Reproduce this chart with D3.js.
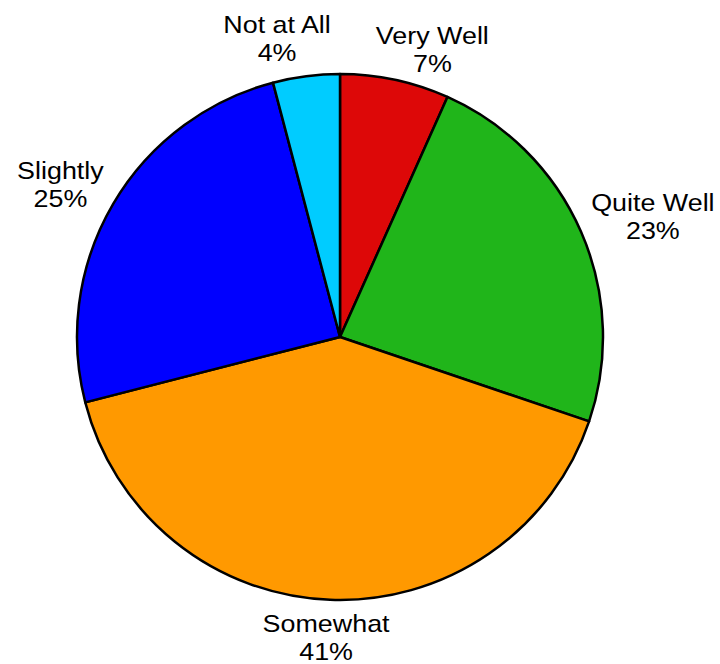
<!DOCTYPE html>
<html>
<head>
<meta charset="utf-8">
<script src="https://cdn.jsdelivr.net/npm/d3@7"></script>
<style>
  html, body { margin: 0; padding: 0; background: #fff; }
  svg { display: block; }
  text { font-family: "Liberation Sans", Arial, sans-serif; font-size: 24px; fill: #000; }
</style>
</head>
<body>
<svg id="chart" width="720" height="664"></svg>
<script>
const categories = ["Very Well", "Quite Well", "Somewhat", "Slightly", "Not at All"];
const values = [6.7, 23.5, 40.8, 24.9, 4.1];
const percentLabels = ["7%", "23%", "41%", "25%", "4%"];
const colors = ["#dd0808", "#20b51a", "#ff9900", "#0000ff", "#00ccff"];

const cx = 340, cy = 337, R = 263;
const sx = 1.12;           // horizontal text stretch seen in the reference
const svg = d3.select("#chart");
const g = svg.append("g").attr("transform", `translate(${cx},${cy})`);

const data = categories.map((c, i) => ({ cat: c, value: values[i], pct: percentLabels[i], color: colors[i] }));
const pie = d3.pie().value(d => d.value).sort(null);
const arc = d3.arc().innerRadius(0).outerRadius(R);
const arcs = pie(data);

g.selectAll("path.slice").data(arcs).enter().append("path")
  .attr("class", "slice")
  .attr("d", arc)
  .attr("fill", d => d.data.color)
  .attr("stroke", "#000")
  .attr("stroke-width", 2.5)
  .attr("stroke-linejoin", "round");

// labels
const pad = 11, lineH = 28.5, blockH = 54;
const lg = g.selectAll("g.label").data(arcs).enter().append("g").attr("class", "label");
const txt = lg.append("text").attr("text-anchor", "middle");
txt.append("tspan").attr("x", 0).attr("y", -6).text(d => d.data.cat);
txt.append("tspan").attr("x", 0).attr("y", -6 + lineH).text(d => d.data.pct);

const labels = [];
lg.each(function(a) {
  let w = 0;
  d3.select(this).selectAll("tspan").each(function() { w = Math.max(w, this.getComputedTextLength()); });
  w *= sx;
  const m = (a.startAngle + a.endAngle) / 2;
  const s = Math.sin(m), c = Math.cos(m);
  const k = Math.sign(s) * Math.min(1, Math.abs(s) * 1.5);
  labels.push({
    node: this, w,
    x: (R + pad) * s + (w / 2) * k,
    y: -(R + pad) * c - (blockH / 2) * c
  });
});
// repulsion for labels sharing a row
for (let iter = 0; iter < 50; iter++) {
  for (let i = 0; i < labels.length; i++) {
    for (let j = i + 1; j < labels.length; j++) {
      const A = labels[i], B = labels[j];
      if (Math.abs(A.y - B.y) < blockH) {
        const left = A.x < B.x ? A : B, right = A.x < B.x ? B : A;
        const gap = (right.x - right.w / 2) - (left.x + left.w / 2);
        const minGap = 45;
        if (gap < minGap) {
          const push = (minGap - gap) / 2;
          left.x -= push; right.x += push;
          // the lower label also drops slightly
          if (left.y > right.y) left.y += push * 0.4; else right.y += push * 0.4;
        }
      }
    }
  }
}
labels.forEach(l => {
  d3.select(l.node).attr("transform", `translate(${l.x},${l.y}) scale(${sx},1)`);
});
</script>
</body>
</html>
